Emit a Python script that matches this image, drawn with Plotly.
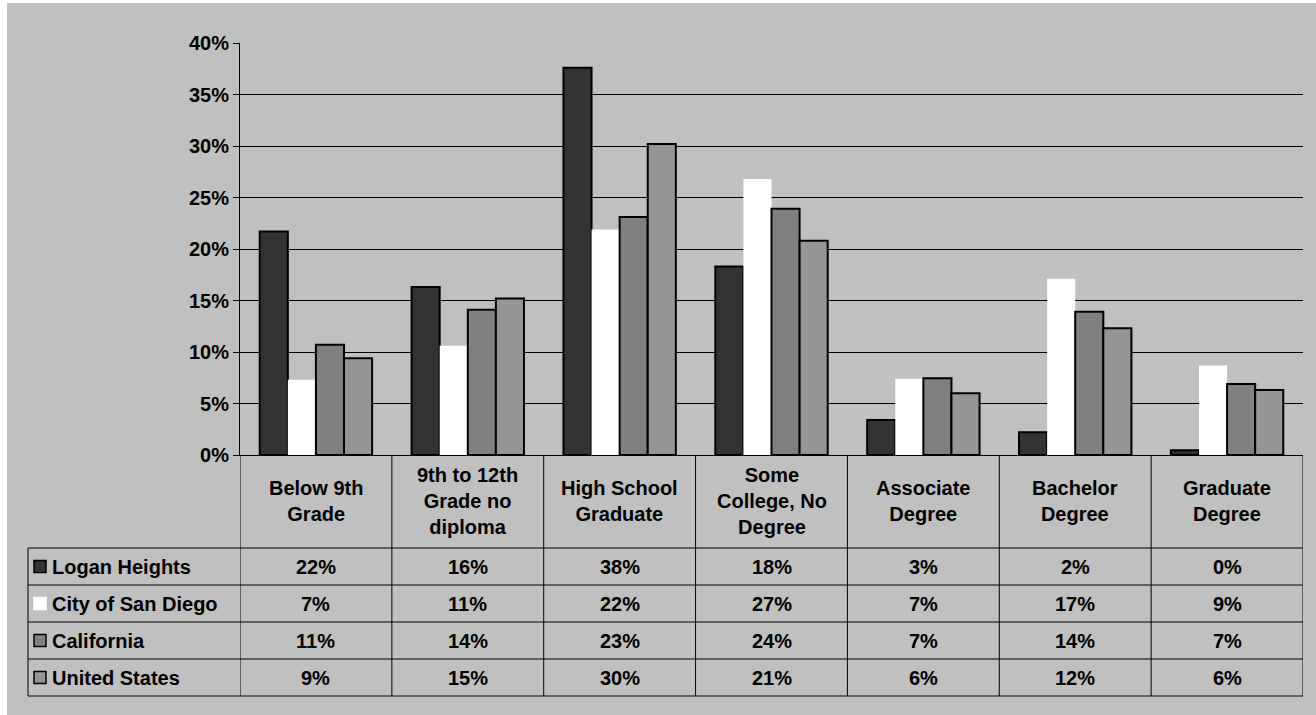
import plotly.graph_objects as go

categories = ["Below 9th<br>Grade", "9th to 12th<br>Grade no<br>diploma", "High School<br>Graduate",
              "Some<br>College, No<br>Degree", "Associate<br>Degree", "Bachelor<br>Degree", "Graduate<br>Degree"]
series = ["Logan Heights", "City of San Diego", "California", "United States"]
logan = [21.7, 16.3, 37.6, 18.3, 3.4, 2.2, 0.45]
san_diego = [7.3, 10.6, 21.9, 26.8, 7.4, 17.1, 8.7]
california = [10.7, 14.1, 23.1, 23.9, 7.45, 13.9, 6.9]
united_states = [9.4, 15.2, 30.2, 20.8, 6.0, 12.3, 6.3]
colors = ["#333333", "#ffffff", "#808080", "#969696"]
values = [logan, san_diego, california, united_states]

W, H = 1316, 715
L, R, T, B = 240, 1303, 43, 455   # plot area in pixels


def px(p):
    return (p - L) / (R - L)


def py(p):
    return (B - p) / (B - T)


FONT = "Liberation Sans, Arial, sans-serif"
FS = 20
xs = list(range(len(categories)))

fig = go.Figure()
for name, vals, col in zip(series, values, colors):
    fig.add_trace(go.Bar(
        x=xs, y=vals, name=name,
        marker=dict(color=col, line=dict(color="black", width=0 if col == "#ffffff" else 2)),
    ))

shapes = []
# grey background (thin white strip at top/left)
shapes.append(dict(type="rect", xref="paper", yref="paper", layer="below",
                   x0=px(7), x1=px(W), y0=py(3), y1=py(H),
                   fillcolor="#C0C0C0", line=dict(width=0)))

line = dict(color="black", width=1)
row_y = [548, 585, 622, 659, 696]
# horizontal table lines
for y in row_y:
    shapes.append(dict(type="line", xref="paper", yref="paper",
                       x0=px(28), x1=px(R), y0=py(y), y1=py(y), line=line))
# vertical lines between categories
for k in range(len(categories) + 1):
    shapes.append(dict(type="line", xref="x", yref="paper",
                       x0=k - 0.5, x1=k - 0.5, y0=0, y1=py(696), line=line))
shapes.append(dict(type="line", xref="paper", yref="paper",
                   x0=px(28), x1=px(28), y0=py(548), y1=py(696), line=line))

annotations = []
for i, c in enumerate(categories):
    annotations.append(dict(x=i, xref="x", y=py(501), yref="paper", text=c, showarrow=False,
                            xanchor="center", yanchor="middle",
                            font=dict(family=FONT, size=FS, color="black", weight="bold")))

for r, (name, vals, col) in enumerate(zip(series, values, colors)):
    yc = (row_y[r] + row_y[r + 1]) / 2
    shapes.append(dict(type="rect", xref="paper", yref="paper",
                       x0=px(34), x1=px(46), y0=py(yc - 6), y1=py(yc + 6),
                       fillcolor=col, line=dict(color="black" if col != "#ffffff" else "white", width=1.5)))
    annotations.append(dict(x=px(50), xref="paper", y=py(yc), yref="paper", text=name,
                            showarrow=False, xanchor="left", yanchor="middle",
                            font=dict(family=FONT, size=FS, color="black", weight="bold")))
    for i, v in enumerate(vals):
        annotations.append(dict(x=i, xref="x", y=py(yc), yref="paper", text=f"{round(v)}%",
                                showarrow=False, xanchor="center", yanchor="middle",
                                font=dict(family=FONT, size=FS, color="black", weight="bold")))

fig.update_layout(
    width=W, height=H,
    margin=dict(l=L, r=W - R, t=T, b=H - B),
    paper_bgcolor="white",
    plot_bgcolor="rgba(0,0,0,0)",
    barmode="group", bargap=0.26, bargroupgap=0,
    showlegend=False,
    shapes=shapes,
    annotations=annotations,
    xaxis=dict(range=[-0.5, 6.5], showticklabels=False, showgrid=False, zeroline=False,
               showline=True, linecolor="black", linewidth=1, ticks=""),
    yaxis=dict(range=[0, 40], dtick=5, ticksuffix="%", showgrid=True, gridcolor="black",
               gridwidth=1, zeroline=False, showline=True, linecolor="black", linewidth=1,
               ticks="outside", ticklen=6, tickcolor="black",
               tickfont=dict(family=FONT, size=FS, color="black", weight="bold")),
)

fig.write_html("out.html", config={"displayModeBar": False},
               post_script="document.body.style.margin='0';")
